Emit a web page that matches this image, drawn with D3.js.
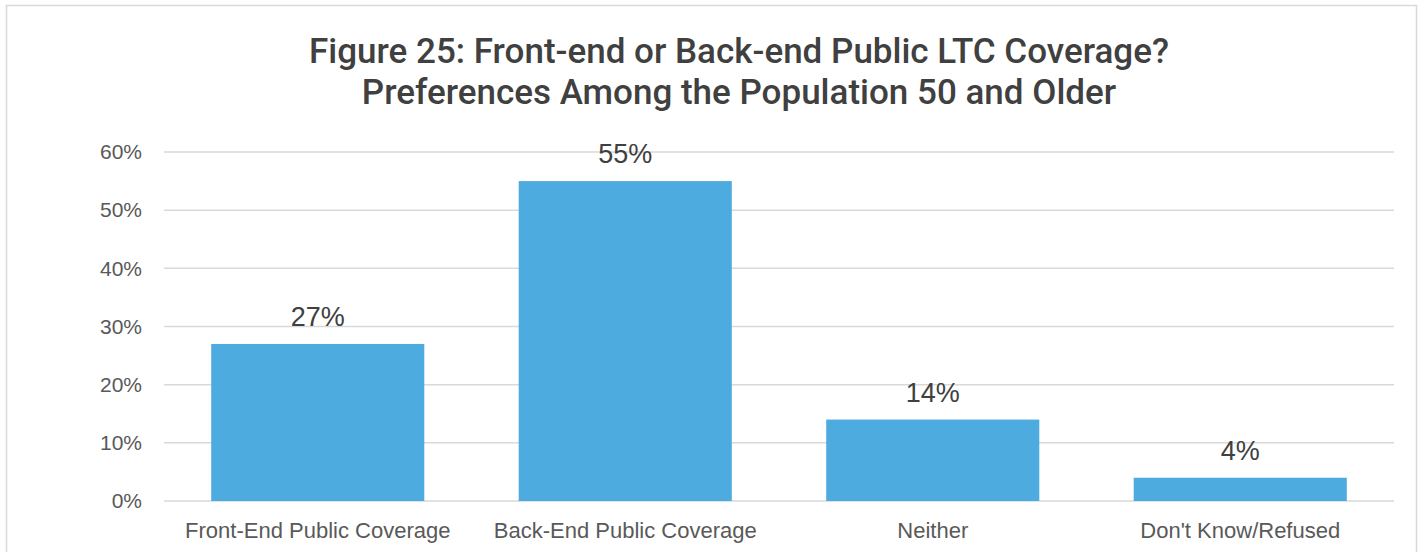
<!DOCTYPE html>
<html>
<head>
<meta charset="utf-8">
<script src="https://cdn.jsdelivr.net/npm/d3@7"></script>
<style>
  html, body { margin: 0; padding: 0; background: #fff; }
  svg { display: block; font-family: "Liberation Sans", Arial, sans-serif; }
</style>
</head>
<body>
<svg id="chart"></svg>
<script>
const categories = ["Front-End Public Coverage", "Back-End Public Coverage", "Neither", "Don't Know/Refused"];
const values = [27, 55, 14, 4];
const yTicks = [0, 10, 20, 30, 40, 50, 60];
const titleLines = [
  "Figure 25: Front-end or Back-end Public LTC Coverage?",
  "Preferences Among the Population 50 and Older"
];

const width = 1421;
const height = 552;
const margin = { top: 152, right: 27, bottom: 51, left: 164 };

const svg = d3.select("#chart")
  .attr("width", width)
  .attr("height", height);

// outer chart border
svg.append("rect")
  .attr("x", 6.5)
  .attr("y", 5.5)
  .attr("width", 1410)
  .attr("height", 560)
  .attr("fill", "none")
  .attr("stroke", "#d9d9d9")
  .attr("stroke-width", 1.5);

const x = d3.scaleBand()
  .domain(categories)
  .range([margin.left, width - margin.right])
  .paddingInner(0.307)
  .paddingOuter(0.1535);

const y = d3.scaleLinear()
  .domain([0, 60])
  .range([height - margin.bottom, margin.top]);

// gridlines
svg.append("g")
  .selectAll("line")
  .data(yTicks)
  .join("line")
  .attr("x1", margin.left)
  .attr("x2", width - margin.right)
  .attr("y1", d => y(d))
  .attr("y2", d => y(d))
  .attr("stroke", "#d9d9d9")
  .attr("stroke-width", 1.5);

// y axis labels
const yAxis = svg.append("g")
  .attr("transform", `translate(${margin.left},0)`)
  .call(d3.axisLeft(y).tickValues(yTicks).tickFormat(d => d + "%").tickSize(0).tickPadding(22));
yAxis.select(".domain").remove();
yAxis.selectAll("text")
  .attr("fill", "#595959")
  .style("font-size", "21px")
  .style("font-family", "'Liberation Sans', Arial, sans-serif");

// bars
svg.append("g")
  .selectAll("rect")
  .data(values)
  .join("rect")
  .attr("x", (d, i) => x(categories[i]))
  .attr("y", d => y(d))
  .attr("width", x.bandwidth())
  .attr("height", d => y(0) - y(d))
  .attr("fill", "#4eabdf");

// value labels
svg.append("g")
  .selectAll("text")
  .data(values)
  .join("text")
  .attr("x", (d, i) => x(categories[i]) + x.bandwidth() / 2)
  .attr("y", d => y(d) - 18)
  .attr("text-anchor", "middle")
  .attr("fill", "#404040")
  .style("font-size", "27px")
  .text(d => d + "%");

// x axis labels
const xAxis = svg.append("g")
  .attr("transform", `translate(0,${y(0)})`)
  .call(d3.axisBottom(x).tickSize(0).tickPadding(21));
xAxis.select(".domain").remove();
xAxis.selectAll("text")
  .attr("fill", "#595959")
  .style("font-size", "22px")
  .style("font-family", "'Liberation Sans', Arial, sans-serif");

// title
svg.append("text")
  .attr("x", 739)
  .attr("y", 63)
  .attr("text-anchor", "middle")
  .attr("fill", "#404040")
  .style("font-family", "Roboto, 'Liberation Sans', sans-serif")
  .style("font-size", "35px")
  .style("font-weight", "500")
  .selectAll("tspan")
  .data(titleLines)
  .join("tspan")
  .attr("x", 739)
  .attr("dy", (d, i) => i === 0 ? 0 : 41)
  .text(d => d);
</script>
</body>
</html>
